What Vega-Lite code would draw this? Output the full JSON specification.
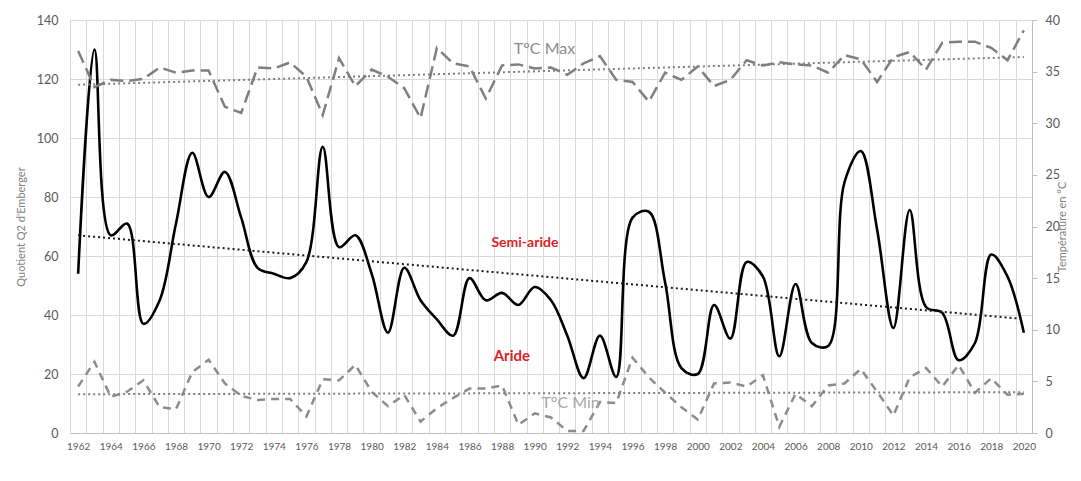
{
  "$schema": "https://vega.github.io/schema/vega-lite/v6.json",
  "autosize": "none",
  "width": 962,
  "height": 413,
  "padding": {"left": 70, "top": 20, "right": 49, "bottom": 48},
  "background": "white",
  "config": {
    "font": "Lato",
    "view": {"stroke": null},
    "axis": {"labelColor": "#595959", "titleColor": "#7f7f7f", "titleFontWeight": "normal", "gridColor": "#d9d9d9", "gridWidth": 1}
  },
  "datasets": {
    "main": [
      {"year": 1962, "q2": 54, "tmax": 37.0, "tmin": 4.5},
      {"year": 1963, "q2": 130, "tmax": 33.5, "tmin": 6.9},
      {"year": 1964, "q2": 67, "tmax": 34.2, "tmin": 3.5},
      {"year": 1965, "q2": 71, "tmax": 34.1, "tmin": 4.0},
      {"year": 1966, "q2": 37, "tmax": 34.3, "tmin": 5.1},
      {"year": 1967, "q2": 45, "tmax": 35.4, "tmin": 2.5},
      {"year": 1968, "q2": 71, "tmax": 34.9, "tmin": 2.3},
      {"year": 1969, "q2": 95, "tmax": 35.1, "tmin": 5.9},
      {"year": 1970, "q2": 80, "tmax": 35.1, "tmin": 7.1},
      {"year": 1971, "q2": 88.5, "tmax": 31.6, "tmin": 4.8},
      {"year": 1972, "q2": 73, "tmax": 31.0, "tmin": 3.6},
      {"year": 1973, "q2": 56, "tmax": 35.4, "tmin": 3.2},
      {"year": 1974, "q2": 54, "tmax": 35.3, "tmin": 3.3},
      {"year": 1975, "q2": 52.5, "tmax": 35.9, "tmin": 3.3},
      {"year": 1976, "q2": 58, "tmax": 34.5, "tmin": 1.6},
      {"year": 1977, "q2": 97, "tmax": 30.8, "tmin": 5.2},
      {"year": 1978, "q2": 63, "tmax": 36.3, "tmin": 5.1},
      {"year": 1979, "q2": 67, "tmax": 33.6, "tmin": 6.6},
      {"year": 1980, "q2": 54, "tmax": 35.2, "tmin": 4.0},
      {"year": 1981, "q2": 34, "tmax": 34.5, "tmin": 2.6},
      {"year": 1982, "q2": 56, "tmax": 33.4, "tmin": 3.7},
      {"year": 1983, "q2": 45, "tmax": 30.5, "tmin": 1.1},
      {"year": 1984, "q2": 38.5, "tmax": 37.3, "tmin": 2.4},
      {"year": 1985, "q2": 33, "tmax": 35.8, "tmin": 3.4},
      {"year": 1986, "q2": 52.5, "tmax": 35.5, "tmin": 4.3},
      {"year": 1987, "q2": 45, "tmax": 32.4, "tmin": 4.3},
      {"year": 1988, "q2": 47.5, "tmax": 35.6, "tmin": 4.6},
      {"year": 1989, "q2": 43.4, "tmax": 35.7, "tmin": 0.8},
      {"year": 1990, "q2": 49.5, "tmax": 35.3, "tmin": 1.9},
      {"year": 1991, "q2": 45, "tmax": 35.4, "tmin": 1.5},
      {"year": 1992, "q2": 33, "tmax": 34.7, "tmin": 0.2},
      {"year": 1993, "q2": 18.6, "tmax": 35.8, "tmin": 0.2},
      {"year": 1994, "q2": 33, "tmax": 36.5, "tmin": 3.0},
      {"year": 1995, "q2": 19, "tmax": 34.2, "tmin": 2.9},
      {"year": 1996, "q2": 73, "tmax": 34.0, "tmin": 7.3},
      {"year": 1997, "q2": 75, "tmax": 32.1, "tmin": 5.4},
      {"year": 1998, "q2": 51, "tmax": 34.9, "tmin": 3.9},
      {"year": 1999, "q2": 22, "tmax": 34.2, "tmin": 2.5},
      {"year": 2000, "q2": 20, "tmax": 35.5, "tmin": 1.3},
      {"year": 2001, "q2": 43.4, "tmax": 33.6, "tmin": 4.8},
      {"year": 2002, "q2": 32, "tmax": 34.2, "tmin": 4.9},
      {"year": 2003, "q2": 58, "tmax": 36.1, "tmin": 4.5},
      {"year": 2004, "q2": 53, "tmax": 35.6, "tmin": 5.6},
      {"year": 2005, "q2": 26, "tmax": 35.9, "tmin": 0.6},
      {"year": 2006, "q2": 50.5, "tmax": 35.7, "tmin": 3.8},
      {"year": 2007, "q2": 30.5, "tmax": 35.6, "tmin": 2.6},
      {"year": 2008, "q2": 29.5, "tmax": 34.9, "tmin": 4.6},
      {"year": 2009, "q2": 85, "tmax": 36.6, "tmin": 4.8},
      {"year": 2010, "q2": 95.6, "tmax": 36.2, "tmin": 6.2},
      {"year": 2011, "q2": 69, "tmax": 34.0, "tmin": 4.0},
      {"year": 2012, "q2": 35.6, "tmax": 36.4, "tmin": 1.7},
      {"year": 2013, "q2": 75.6, "tmax": 36.9, "tmin": 5.4},
      {"year": 2014, "q2": 42.7, "tmax": 35.2, "tmin": 6.3},
      {"year": 2015, "q2": 40.7, "tmax": 37.8, "tmin": 4.5},
      {"year": 2016, "q2": 24.7, "tmax": 37.9, "tmin": 6.6},
      {"year": 2017, "q2": 30.5, "tmax": 37.9, "tmin": 3.9},
      {"year": 2018, "q2": 60.5, "tmax": 37.3, "tmin": 5.3},
      {"year": 2019, "q2": 53, "tmax": 36.1, "tmin": 3.7},
      {"year": 2020, "q2": 34, "tmax": 39.0, "tmin": 3.8}
    ],
    "q2labels": [
      {"year": 1989.4, "v": 64.5, "label": "Semi-aride", "size": 14},
      {"year": 1988.6, "v": 26, "label": "Aride", "size": 15}
    ],
    "tlabels": [
      {"year": 1990.6, "v": 37.2, "label": "T°C Max", "color": "#8c8c8c"},
      {"year": 1992.2, "v": 2.9, "label": "T°C Min", "color": "#a6a6a6"}
    ]
  },
  "layer": [
    {
      "layer": [
        {
          "data": {"name": "main"},
          "mark": {"type": "line", "color": "black", "strokeWidth": 2.6, "interpolate": "catmull-rom"},
          "encoding": {
            "x": {
              "field": "year", "type": "quantitative",
              "scale": {"domain": [1961.5, 2020.5], "nice": false, "zero": false},
              "axis": {
                "title": null,
                "values": [1961.5,1962.5,1963.5,1964.5,1965.5,1966.5,1967.5,1968.5,1969.5,1970.5,1971.5,1972.5,1973.5,1974.5,1975.5,1976.5,1977.5,1978.5,1979.5,1980.5,1981.5,1982.5,1983.5,1984.5,1985.5,1986.5,1987.5,1988.5,1989.5,1990.5,1991.5,1992.5,1993.5,1994.5,1995.5,1996.5,1997.5,1998.5,1999.5,2000.5,2001.5,2002.5,2003.5,2004.5,2005.5,2006.5,2007.5,2008.5,2009.5,2010.5,2011.5,2012.5,2013.5,2014.5,2015.5,2016.5,2017.5,2018.5,2019.5,2020.5,1962,1964,1966,1968,1970,1972,1974,1976,1978,1980,1982,1984,1986,1988,1990,1992,1994,1996,1998,2000,2002,2004,2006,2008,2010,2012,2014,2016,2018,2020],
                "tickCount": 500,
                "tickMinStep": 0.1,
                "labelExpr": "datum.value % 1 === 0 ? '' + datum.value : ''",
                "labelOverlap": false,
                "labelFlush": false,
                "labelFontSize": 10,
                "labelPadding": 8,
                "ticks": false,
                "grid": true,
                "gridOpacity": {"condition": {"test": "datum.value % 1 === 0", "value": 0}, "value": 1},
                "domainColor": "#bfbfbf"
              }
            },
            "y": {
              "field": "q2", "type": "quantitative",
              "scale": {"domain": [0, 140], "nice": false},
              "title": "Quotient Q2 d'Emberger",
              "axis": {"values": [0,20,40,60,80,100,120,140], "ticks": false, "domain": false, "labelFontSize": 12.5, "labelPadding": 12, "titleFontSize": 11, "titlePadding": 10, "grid": true}
            }
          }
        },
        {
          "data": {"name": "main"},
          "transform": [{"regression": "q2", "on": "year", "extent": [1962, 2020]}],
          "mark": {"type": "line", "color": "#1a1a1a", "strokeWidth": 2, "strokeDash": [2, 3]},
          "encoding": {
            "x": {"field": "year", "type": "quantitative"},
            "y": {"field": "q2", "type": "quantitative", "title": "Quotient Q2 d'Emberger"}
          }
        },
        {
          "mark": {"type": "rule", "color": "#dd1f26", "strokeWidth": 3.5},
          "encoding": {"y": {"datum": 40, "type": "quantitative", "title": "Quotient Q2 d'Emberger"}}
        },
        {
          "data": {"name": "q2labels"},
          "mark": {"type": "text", "color": "#dd1f26", "fontWeight": "bold"},
          "encoding": {
            "x": {"field": "year", "type": "quantitative"},
            "y": {"field": "v", "type": "quantitative", "title": "Quotient Q2 d'Emberger"},
            "text": {"field": "label"},
            "size": {"field": "size", "type": "quantitative", "scale": null}
          }
        }
      ]
    },
    {
      "layer": [
        {
          "data": {"name": "main"},
          "mark": {"type": "line", "color": "#7f7f7f", "strokeWidth": 2.5, "strokeDash": [13, 6]},
          "encoding": {
            "x": {"field": "year", "type": "quantitative"},
            "y": {
              "field": "tmax", "type": "quantitative",
              "scale": {"domain": [0, 40], "nice": false},
              "title": "Température en °C",
              "axis": {"orient": "right", "values": [0,5,10,15,20,25,30,35,40], "grid": false, "ticks": true, "tickColor": "#bfbfbf", "tickSize": 5, "domainColor": "#bfbfbf", "labelFontSize": 12.5, "labelPadding": 8, "titleFontSize": 11, "titleAngle": 270, "titlePadding": 8}
            }
          }
        },
        {
          "data": {"name": "main"},
          "mark": {"type": "line", "color": "#8c8c8c", "strokeWidth": 2.5, "strokeDash": [8, 6]},
          "encoding": {
            "x": {"field": "year", "type": "quantitative"},
            "y": {"field": "tmin", "type": "quantitative", "title": "Température en °C"}
          }
        },
        {
          "data": {"name": "main"},
          "transform": [{"regression": "tmax", "on": "year", "extent": [1962, 2020]}],
          "mark": {"type": "line", "color": "#7f7f7f", "strokeWidth": 2, "strokeDash": [2, 3]},
          "encoding": {
            "x": {"field": "year", "type": "quantitative"},
            "y": {"field": "tmax", "type": "quantitative", "title": "Température en °C"}
          }
        },
        {
          "data": {"name": "main"},
          "transform": [{"regression": "tmin", "on": "year", "extent": [1962, 2020]}],
          "mark": {"type": "line", "color": "#7f7f7f", "strokeWidth": 2, "strokeDash": [2, 3]},
          "encoding": {
            "x": {"field": "year", "type": "quantitative"},
            "y": {"field": "tmin", "type": "quantitative", "title": "Température en °C"}
          }
        },
        {
          "data": {"name": "tlabels"},
          "mark": {"type": "text", "fontSize": 16},
          "encoding": {
            "x": {"field": "year", "type": "quantitative"},
            "y": {"field": "v", "type": "quantitative", "title": "Température en °C"},
            "text": {"field": "label"},
            "color": {"field": "color", "type": "nominal", "scale": null}
          }
        }
      ]
    }
  ],
  "resolve": {"scale": {"y": "independent"}}
}
